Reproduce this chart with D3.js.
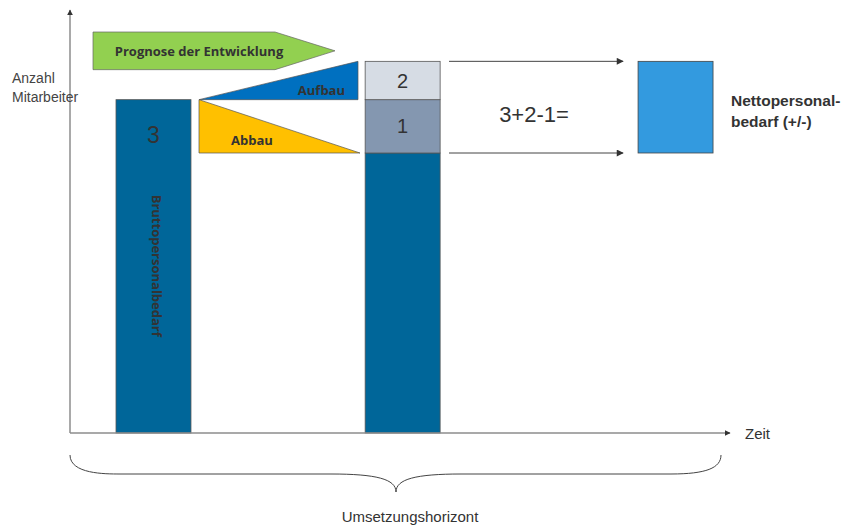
<!DOCTYPE html>
<html>
<head>
<meta charset="utf-8">
<script src="https://cdn.jsdelivr.net/npm/d3@7"></script>
<style>
  body { margin: 0; background: #fff; }
  svg { display: block; }
</style>
</head>
<body>
<svg id="chart" width="847" height="529"></svg>
<script>
// --- data (time position on x 0..100, staff count on y 0..126) ---
const barKeys = ["brutto", "umsetzung", "netto"];
const barTime = [12.65, 50.4, 91.75];        // column centre on the time axis
const bruttoValue = 100;                       // Bruttopersonalbedarf
const baseValue = 84;                          // remaining staff
const abbauValue = 16;                         // segment "1"
const aufbauValue = 11.5;                      // segment "2"
const prognoseBand = [109, 120.3];             // green arrow extent
const segmentLabels = ["1", "2"];
const formulaText = "3+2-1=";

const svg = d3.select("#chart");
const margin = {left: 70, right: 117, top: 13, bottom: 96};
const width = 847 - margin.left - margin.right;   // 660
const height = 529 - margin.top - margin.bottom;  // 420

const x = d3.scaleLinear().domain([0, 100]).range([margin.left, margin.left + width]);
const y = d3.scaleLinear().domain([0, 126]).range([margin.top + height, margin.top]);
const barW = x(11.36) - x(0);

const axisGrey = "#8c8c8c";

// arrow markers
const defs = svg.append("defs");
defs.append("marker")
    .attr("id", "axisHead")
    .attr("viewBox", "0 0 10 10")
    .attr("refX", 9).attr("refY", 5)
    .attr("markerWidth", 6).attr("markerHeight", 6)
    .attr("markerUnits", "userSpaceOnUse")
    .attr("orient", "auto")
    .append("path").attr("d", "M0,0L10,5L0,10Z").attr("fill", "#333");
defs.append("marker")
    .attr("id", "smallHead")
    .attr("viewBox", "0 0 10 10")
    .attr("refX", 9).attr("refY", 5)
    .attr("markerWidth", 10).attr("markerHeight", 7)
    .attr("markerUnits", "userSpaceOnUse")
    .attr("orient", "auto")
    .append("path").attr("d", "M0,0L10,5L0,10Z").attr("fill", "#333");

// --- bars ---
const bx = (i) => x(barTime[i]) - barW / 2;

// Bruttopersonalbedarf column
svg.append("rect")
    .attr("x", bx(0)).attr("y", y(bruttoValue))
    .attr("width", barW).attr("height", y(0) - y(bruttoValue))
    .attr("fill", "#006699").attr("stroke", "#555").attr("stroke-width", 0.8);
svg.append("text")
    .attr("x", x(barTime[0])).attr("y", y(bruttoValue) + 43)
    .attr("text-anchor", "middle")
    .style("font-family", "'Liberation Sans', Arial, sans-serif")
    .style("font-size", "23px").attr("fill", "#333")
    .text("3");
svg.append("text")
    .attr("transform", "translate(" + (x(barTime[0]) - 1) + "," + (y(bruttoValue) + 95) + ") rotate(90)")
    .style("font-family", "'Open Sans', sans-serif")
    .style("font-size", "13px").style("font-weight", "bold")
    .attr("fill", "#333")
    .text("Bruttopersonalbedarf");

// Umsetzung column: base + two segments
const stack = [
  {y0: 0, y1: baseValue, fill: "#006699", label: null},
  {y0: baseValue, y1: bruttoValue, fill: "#8497B0", label: segmentLabels[0]},
  {y0: bruttoValue, y1: bruttoValue + aufbauValue, fill: "#D6DCE4", label: segmentLabels[1]}
];
svg.append("g").selectAll("rect")
    .data(stack).enter().append("rect")
    .attr("x", bx(1)).attr("y", d => y(d.y1))
    .attr("width", barW).attr("height", d => y(d.y0) - y(d.y1))
    .attr("fill", d => d.fill).attr("stroke", "#555").attr("stroke-width", 0.8);
svg.append("g").selectAll("text")
    .data(stack.filter(d => d.label)).enter().append("text")
    .attr("x", x(barTime[1])).attr("y", d => (y(d.y0) + y(d.y1)) / 2 + 7)
    .attr("text-anchor", "middle")
    .style("font-family", "'Liberation Sans', Arial, sans-serif")
    .style("font-size", "20px").attr("fill", "#333")
    .text(d => d.label);

// Netto box
svg.append("rect")
    .attr("x", bx(2)).attr("y", y(bruttoValue + aufbauValue))
    .attr("width", barW).attr("height", y(baseValue) - y(bruttoValue + aufbauValue))
    .attr("fill", "#339ADF").attr("stroke", "#444").attr("stroke-width", 0.8);
svg.append("text")
    .attr("x", x(barTime[2]) + barW / 2 + 18).attr("y", y(bruttoValue) + 6)
    .style("font-family", "'Liberation Sans', Arial, sans-serif")
    .style("font-size", "15.5px").style("font-weight", "bold").attr("fill", "#333")
    .text("Nettopersonal-");
svg.append("text")
    .attr("x", x(barTime[2]) + barW / 2 + 18).attr("y", y(bruttoValue) + 27)
    .style("font-family", "'Liberation Sans', Arial, sans-serif")
    .style("font-size", "15.5px").style("font-weight", "bold").attr("fill", "#333")
    .text("bedarf (+/-)");

// --- Prognose arrow and triangles ---
const pTop = y(prognoseBand[1]), pBot = y(prognoseBand[0]), pMid = (pTop + pBot) / 2;
svg.append("path")
    .attr("d", d3.line()([[93, pTop], [275, pTop], [335, pMid], [275, pBot], [93, pBot]]) + "Z")
    .attr("fill", "#92D050").attr("stroke", "#666").attr("stroke-width", 0.7);
svg.append("text")
    .attr("x", 199).attr("y", pMid + 5)
    .attr("text-anchor", "middle")
    .style("font-family", "'Open Sans', sans-serif")
    .style("font-size", "13px").style("font-weight", "bold").attr("fill", "#333")
    .text("Prognose der Entwicklung");

const triL = 199, triR = 358;
svg.append("path")
    .attr("d", d3.line()([[triL, y(bruttoValue)], [triR, y(bruttoValue + aufbauValue)], [triR, y(bruttoValue)]]) + "Z")
    .attr("fill", "#0070C0").attr("stroke", "#555").attr("stroke-width", 0.7);
svg.append("text")
    .attr("x", 345).attr("y", y(bruttoValue) - 5)
    .attr("text-anchor", "end")
    .style("font-family", "'Open Sans', sans-serif")
    .style("font-size", "13px").style("font-weight", "bold").attr("fill", "#333")
    .text("Aufbau");

svg.append("path")
    .attr("d", d3.line()([[triL, y(bruttoValue)], [triL, y(baseValue)], [triR + 2, y(baseValue)]]) + "Z")
    .attr("fill", "#FFC000").attr("stroke", "#555").attr("stroke-width", 0.7);
svg.append("text")
    .attr("x", 252).attr("y", y(baseValue) - 8)
    .attr("text-anchor", "middle")
    .style("font-family", "'Open Sans', sans-serif")
    .style("font-size", "13px").style("font-weight", "bold").attr("fill", "#333")
    .text("Abbau");

// --- arrows to Netto box ---
[bruttoValue + aufbauValue, baseValue].forEach(v => {
  svg.append("line")
      .attr("x1", 449).attr("x2", bx(2) - 15)
      .attr("y1", y(v)).attr("y2", y(v))
      .attr("stroke", "#444").attr("stroke-width", 1)
      .attr("marker-end", "url(#smallHead)");
});
svg.append("text")
    .attr("x", 534).attr("y", 122)
    .attr("text-anchor", "middle")
    .style("font-family", "'Liberation Sans', Arial, sans-serif")
    .style("font-size", "22px").attr("fill", "#333")
    .text(formulaText);

// --- axes ---
svg.append("line")
    .attr("x1", x(0)).attr("x2", x(0))
    .attr("y1", y(0)).attr("y2", 10)
    .attr("stroke", axisGrey).attr("stroke-width", 1.5)
    .attr("marker-end", "url(#axisHead)");
svg.append("line")
    .attr("x1", x(0)).attr("x2", x(100))
    .attr("y1", y(0)).attr("y2", y(0))
    .attr("stroke", axisGrey).attr("stroke-width", 1.5)
    .attr("marker-end", "url(#axisHead)");

svg.append("text")
    .attr("x", 12).attr("y", 83)
    .style("font-family", "'Liberation Sans', Arial, sans-serif")
    .style("font-size", "14px").attr("fill", "#444")
    .text("Anzahl");
svg.append("text")
    .attr("x", 12).attr("y", 102)
    .style("font-family", "'Liberation Sans', Arial, sans-serif")
    .style("font-size", "14px").attr("fill", "#444")
    .text("Mitarbeiter");

svg.append("text")
    .attr("x", 745).attr("y", 439)
    .style("font-family", "'Liberation Sans Narrow', 'Liberation Sans', Arial, sans-serif")
    .style("font-size", "15px").attr("fill", "#333")
    .text("Zeit");

// --- brace ---
const bL = 70, bR = 721, bMid = 396, bTop = 455, bLine = 474, bTip = 492;
const brace = d3.path();
brace.moveTo(bL, bTop);
brace.bezierCurveTo(bL, bLine, 105, bLine, 120, bLine);
brace.lineTo(bMid - 65, bLine);
brace.bezierCurveTo(bMid - 20, bLine, bMid, bLine + 5, bMid, bTip);
brace.bezierCurveTo(bMid, bLine + 5, bMid + 20, bLine, bMid + 65, bLine);
brace.lineTo(bR - 50, bLine);
brace.bezierCurveTo(bR - 15, bLine, bR, bLine - 6, bR, bTop);
svg.append("path")
    .attr("d", brace.toString())
    .attr("fill", "none").attr("stroke", "#444").attr("stroke-width", 1);

svg.append("text")
    .attr("x", 410).attr("y", 522)
    .attr("text-anchor", "middle")
    .style("font-family", "'Liberation Sans Narrow', 'Liberation Sans', Arial, sans-serif")
    .style("font-size", "15px").attr("fill", "#333")
    .text("Umsetzungshorizont");
</script>
</body>
</html>
